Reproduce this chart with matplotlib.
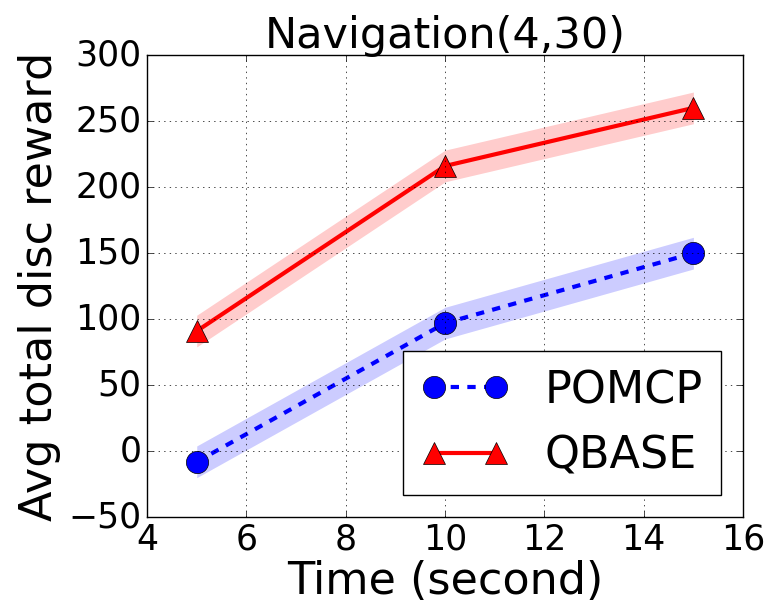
import matplotlib
matplotlib.use("Agg")
import matplotlib.pyplot as plt
import numpy as np

plt.style.use('classic')

times = [5, 10, 15]
pomcp = [-8, 97, 150]
qbase = [91, 216, 260]
pomcp_err = [12, 12, 12]
qbase_err = [12, 12, 12]

fig = plt.figure(figsize=(7.7, 6.05), dpi=100)
ax = fig.add_axes([0.191, 0.145, 0.774, 0.764])

t = np.array(times)
p = np.array(pomcp); pe = np.array(pomcp_err)
q = np.array(qbase); qe = np.array(qbase_err)

ax.fill_between(t, p - pe, p + pe, color='blue', alpha=0.2, linewidth=0)
ax.fill_between(t, q - qe, q + qe, color='red', alpha=0.2, linewidth=0)
ax.plot(t, p, 'o--', color='blue', linewidth=3, markersize=16, label='POMCP')
ax.plot(t, q, '^-', color='red', linewidth=3, markersize=16, label='QBASE')

ax.set_xlim(4, 16)
ax.set_ylim(-50, 300)
ax.grid(True)
ax.tick_params(labelsize=25)
ax.set_xlabel('Time (second)', fontsize=32, labelpad=2)
ax.set_ylabel('Avg total disc reward', fontsize=32)
ax.set_title('Navigation(4,30)', fontsize=31)
ax.legend(loc='lower right', numpoints=2, fontsize=32)

fig.savefig('out.png', dpi=100)
